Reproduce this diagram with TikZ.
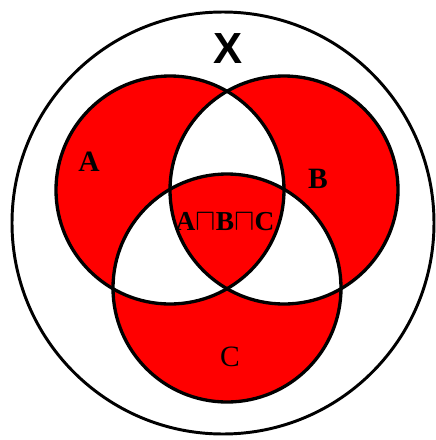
\documentclass[tikz,border=0pt]{standalone}
\usepackage{graphicx}
\usepackage{fontspec}
\setmainfont{Liberation Serif}
\newfontfamily\xfont{Liberation Sans}
\usetikzlibrary{positioning}
\newcommand{\meetsym}{\resizebox{!}{0.62em}{$\mathsurround=0pt\sqcap$}}

\begin{document}
\begin{tikzpicture}[
  x=0.05cm, y=-0.05cm,
  setline/.style={line width=4.7pt},
  every node/.style={inner sep=0pt},
  setlabel/.style={font=\bfseries\fontsize{42}{42}\selectfont}
]
  \useasboundingbox (0,0) rectangle (436,440);

  % Sets, red where an odd number of them overlap
  \fill[red, even odd rule] (170,190) circle (114)
                            (284,190) circle (114)
                            (227,288) circle (114);

  % Outlines
  \draw[setline, line width=4.2pt] (223,223) circle (211);
  \draw[setline] (170,190) circle (114);
  \draw[setline] (284,190) circle (114);
  \draw[setline] (227,288) circle (114);

  % Labels
  \node (X) at (228,49) {\xfont\bfseries\fontsize{62}{62}\selectfont X};
  \node[setlabel] (A) at (89,162) {A};
  \node[setlabel] (B) at (318,179) {B};
  \node (C) at (230,357) {\fontsize{42}{42}\selectfont C};
  \node[setlabel, font=\bfseries\fontsize{39}{39}\selectfont] (ABC) at (225,222)
    {A\meetsym B\meetsym C};
\end{tikzpicture}
\end{document}
